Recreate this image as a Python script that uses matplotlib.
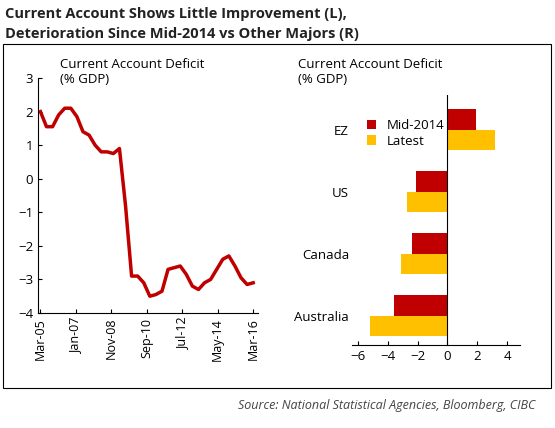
import matplotlib
matplotlib.use("Agg")
import matplotlib.pyplot as plt
from matplotlib.patches import Rectangle
import numpy as np

plt.rcParams['font.family'] = ['Open Sans', 'DejaVu Sans']

# Left chart data (quarterly, Mar-05 .. Mar-16)
ca_values = [2.0, 1.55, 1.55, 1.9, 2.1, 2.1, 1.85, 1.4, 1.3, 1.0, 0.8, 0.8, 0.75, 0.9,
             -0.8, -2.9, -2.9, -3.1, -3.5, -3.45, -3.35, -2.7, -2.65, -2.6, -2.85,
             -3.2, -3.3, -3.1, -3.0, -2.7, -2.4, -2.3, -2.6, -2.95, -3.15, -3.1]
x_ticklabels = ["Mar-05", "Jan-07", "Nov-08", "Sep-10", "Jul-12", "May-14", "Mar-16"]

# Right chart data
countries = ["EZ", "US", "Canada", "Australia"]
mid2014 = [1.9, -2.1, -2.4, -3.6]
latest = [3.2, -2.7, -3.1, -5.2]

RED = "#C00000"
YEL = "#FFC000"

fig = plt.figure(figsize=(5.55, 4.28), dpi=100)
fig.add_artist(Rectangle((3/555, 1-388/428), 548/555, 344/428, transform=fig.transFigure,
                         fill=False, ec="black", lw=0.8))
fig.text(5/555, 1-14/428, "Current Account Shows Little Improvement (L),", fontsize=10.5,
         fontweight="bold", color="#222222", va="center")
fig.text(5/555, 1-34/428, "Deterioration Since Mid-2014 vs Other Majors (R)", fontsize=10.5,
         fontweight="bold", color="#222222", va="center")
fig.text(535/555, 1-405/428, "Source: National Statistical Agencies, Bloomberg, CIBC",
         fontsize=9, style="italic", color="#444444", ha="right", va="center")

# Left axes
ax = fig.add_axes([38/555, 1-313/428, 220/555, 235/428])
xq = np.linspace(0, 44, len(ca_values))
ax.plot(xq, ca_values, color=RED, lw=2.5)
ax.set_ylim(-4, 3)
ax.set_xlim(-0.5, 45)
ax.set_yticks(range(-4, 4))
ax.set_xticks([0, 7.33, 14.67, 22, 29.33, 36.67, 44])
ax.set_xticklabels(x_ticklabels, rotation=90, fontsize=9)
ax.tick_params(axis='y', labelsize=9.5, direction='in', length=3)
ax.tick_params(axis='x', direction='in', length=3)
for s in ["top", "right"]:
    ax.spines[s].set_visible(False)
fig.text(60/555, 1-58/428, "Current Account Deficit\n(% GDP)", fontsize=9.5, va="top", ha="left")

# Right axes
ax2 = fig.add_axes([352/555, 1-345/428, 168/555, 250/428])
ypos = np.arange(len(countries))
h = 0.33
ax2.barh(ypos - h/2, mid2014, height=h, color=RED, label="Mid-2014")
ax2.barh(ypos + h/2, latest, height=h, color=YEL, label="Latest")
ax2.set_xlim(-6.4, 4.87)
ax2.set_ylim(3.47, -0.56)
ax2.set_xticks([-6, -4, -2, 0, 2, 4])
ax2.set_yticks(ypos)
ax2.set_yticklabels(countries, fontsize=9.5)
ax2.tick_params(axis='y', length=0, pad=2)
ax2.tick_params(axis='x', labelsize=9.5, direction='in', length=3)
ax2.axvline(0, color="black", lw=0.8)
for s in ["top", "right", "left"]:
    ax2.spines[s].set_visible(False)
ax2.legend(loc="upper left", bbox_to_anchor=(0.05, 0.93), frameon=False, fontsize=9.5,
           handlelength=0.7, handleheight=0.7, labelspacing=0.2, borderpad=0)
fig.text(298/555, 1-58/428, "Current Account Deficit\n(% GDP)", fontsize=9.5, va="top", ha="left")

fig.savefig("out.png", dpi=100)
